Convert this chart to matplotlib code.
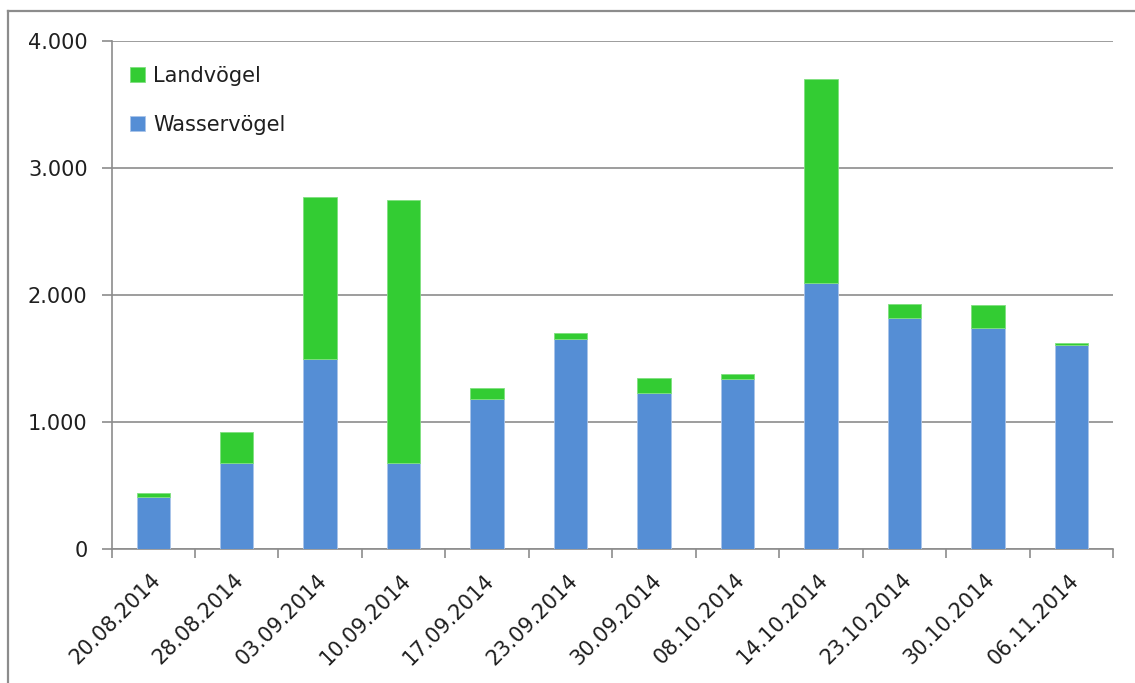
import matplotlib
matplotlib.use("Agg")
import matplotlib.pyplot as plt
import matplotlib.transforms as mtrans
from matplotlib.lines import Line2D
from matplotlib.ticker import FuncFormatter
import numpy as np

dates = ["20.08.2014", "28.08.2014", "03.09.2014", "10.09.2014", "17.09.2014",
         "23.09.2014", "30.09.2014", "08.10.2014", "14.10.2014", "23.10.2014",
         "30.10.2014", "06.11.2014"]
wasservoegel = [407, 677, 1496, 677, 1181, 1656, 1226, 1336, 2092, 1821, 1740, 1606]
landvoegel = [32, 242, 1273, 2071, 84, 42, 118, 39, 1606, 108, 179, 14]

plt.rcParams['font.family'] = ['DejaVu Sans']
FS = 15
TXT = "#1F1F1F"

W, H = 1135, 683
fig = plt.figure(figsize=(W / 100, H / 100), dpi=100)
left, right, top, bottom = 111.5, 1113, 41, 549
ax = fig.add_axes([left / W, 1 - bottom / H, (right - left) / W, (bottom - top) / H])

x = np.arange(len(dates))
blue = "#558ED5"
green = "#33CC33"
b1 = ax.bar(x, wasservoegel, width=0.40, color=blue, edgecolor="#A9C4EA", linewidth=0.6,
            label="Wasservögel", zorder=3)
b2 = ax.bar(x, landvoegel, bottom=wasservoegel, width=0.40, color=green, edgecolor="#7FE07F",
            linewidth=0.6, label="Landvögel", zorder=3)

ax.set_xlim(-0.5, len(dates) - 0.5)
ax.set_ylim(0, 4000)
ax.set_yticks([0, 1000, 2000, 3000, 4000])
ax.yaxis.set_major_formatter(FuncFormatter(lambda v, p: f"{int(v):,}".replace(",", ".")))
ax.grid(axis='y', color="#8C8C8C", linewidth=1.2, zorder=0)
ax.set_axisbelow(True)

for s in ['top', 'right']:
    ax.spines[s].set_visible(False)
for s in ['left', 'bottom']:
    ax.spines[s].set_color("#8C8C8C")
    ax.spines[s].set_linewidth(1.2)

ax.set_xticks(x)
ax.set_xticklabels(dates, rotation=45, ha='right', rotation_mode='anchor', fontsize=FS, color=TXT)
ax.set_xticks(np.arange(-0.5, len(dates)), minor=True)
ax.tick_params(axis='x', which='major', length=0, pad=15)
ax.tick_params(axis='x', which='minor', length=6.5, color="#8C8C8C", width=1.2, direction='out')
ax.tick_params(axis='y', length=7.2, color="#8C8C8C", width=1.2, labelsize=FS, pad=10,
               labelcolor=TXT)

offset = mtrans.ScaledTranslation(-3 / 100, 0, fig.dpi_scale_trans)
for lab in ax.get_xticklabels():
    lab.set_transform(lab.get_transform() + offset)

leg = fig.legend(handles=[b2, b1], labels=["Landvögel", "Wasservögel"], loc='upper left',
                 bbox_to_anchor=(130 / W, 1 - 66 / H), bbox_transform=fig.transFigure,
                 frameon=False, fontsize=FS, borderpad=0, borderaxespad=0,
                 handlelength=0.72, handleheight=0.72, handletextpad=0.38, labelspacing=1.37)
for t in leg.get_texts():
    t.set_color(TXT)

fig.add_artist(Line2D([8 / W, 1.0], [1 - 11 / H, 1 - 11 / H], transform=fig.transFigure,
                      color="#8C8C8C", linewidth=1.6))
fig.add_artist(Line2D([8 / W, 8 / W], [1 - 11 / H, 0.0], transform=fig.transFigure,
                      color="#8C8C8C", linewidth=1.6))

fig.savefig("out.png", dpi=100)
